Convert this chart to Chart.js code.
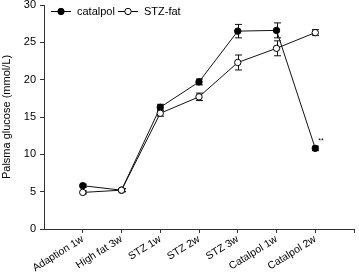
<!DOCTYPE html>
<html>
<head>
<meta charset="utf-8">
<script src="https://cdn.jsdelivr.net/npm/chart.js@4/dist/chart.umd.min.js"></script>
<style>
  html, body { margin: 0; padding: 0; background: #fff; }
  #wrap { width: 359px; height: 272px; position: relative; }
</style>
</head>
<body>
<div id="wrap"><canvas id="myChart"></canvas></div>
<script>
const categories = ["Adaption 1w", "High fat 3w", "STZ 1w", "STZ 2w", "STZ 3w", "Catalpol 1w", "Catalpol 2w"];
const catalpolValues = [5.8, 5.2, 16.3, 19.7, 26.5, 26.6, 10.8];
const catalpolErrors = [0.2, 0.2, 0.4, 0.4, 0.9, 1.0, 0.3];
const stzFatValues = [4.9, 5.2, 15.5, 17.7, 22.3, 24.2, 26.3];
const stzFatErrors = [0.2, 0.2, 0.4, 0.5, 1.0, 1.0, 0.4];
const yTicks = [0, 5, 10, 15, 20, 25, 30];

const FONT = "'Liberation Sans', Arial, sans-serif";

function toPoints(values) {
  return values.map((v, i) => ({ x: i + 1, y: v }));
}

// draws error bars behind markers, the legend and the ** mark
const extras = {
  id: "extras",
  beforeDatasetsDraw(chart) {
    const ctx = chart.ctx;
    const xs = chart.scales.x;
    const ys = chart.scales.y;
    const sets = [
      [catalpolValues, catalpolErrors],
      [stzFatValues, stzFatErrors],
    ];
    ctx.save();
    ctx.strokeStyle = "#111";
    ctx.lineWidth = 1;
    sets.forEach(([vals, errs]) => {
      vals.forEach((v, i) => {
        const x = Math.round(xs.getPixelForValue(i + 1)) + 0.5;
        const top = ys.getPixelForValue(v + errs[i]);
        const bot = ys.getPixelForValue(v - errs[i]);
        ctx.beginPath();
        ctx.moveTo(x, top);
        ctx.lineTo(x, bot);
        ctx.moveTo(x - 3.5, top);
        ctx.lineTo(x + 3.5, top);
        ctx.moveTo(x - 3.5, bot);
        ctx.lineTo(x + 3.5, bot);
        ctx.stroke();
      });
    });
    ctx.restore();
  },
  afterDatasetsDraw(chart) {
    const ctx = chart.ctx;
    const xs = chart.scales.x;
    const ys = chart.scales.y;
    ctx.save();
    // legend
    const items = [
      { label: "catalpol", x: 51, fill: "#000" },
      { label: "STZ-fat", x: 118, fill: "#fff" },
    ];
    ctx.font = "11px " + FONT;
    ctx.textBaseline = "middle";
    items.forEach((it) => {
      const y = 11.5;
      ctx.strokeStyle = "#000";
      ctx.lineWidth = 1;
      ctx.beginPath();
      ctx.moveTo(it.x, y);
      ctx.lineTo(it.x + 20, y);
      ctx.stroke();
      ctx.beginPath();
      ctx.arc(it.x + 10, y, 3.2, 0, Math.PI * 2);
      ctx.fillStyle = it.fill;
      ctx.fill();
      ctx.stroke();
      ctx.fillStyle = "#000";
      ctx.fillText(it.label, it.x + 26, y);
    });
    // significance mark
    const px = xs.getPixelForValue(7);
    const py = ys.getPixelForValue(catalpolValues[6]);
    ctx.font = "7px " + FONT;
    ctx.fillText("**", px + 3, py - 7);
    ctx.restore();
  },
};

new Chart(document.getElementById("myChart").getContext("2d"), {
  type: "line",
  data: {
    datasets: [
      {
        label: "STZ-fat",
        data: toPoints(stzFatValues),
        borderColor: "#111",
        borderWidth: 1,
        pointRadius: 3.2,
        pointBackgroundColor: "#fff",
        pointBorderColor: "#000",
        pointBorderWidth: 1,
        tension: 0,
      },
      {
        label: "catalpol",
        data: toPoints(catalpolValues),
        borderColor: "#111",
        borderWidth: 1,
        pointRadius: 3.2,
        pointBackgroundColor: "#000",
        pointBorderColor: "#000",
        pointBorderWidth: 1,
        tension: 0,
      },
    ],
  },
  options: {
    responsive: true,
    maintainAspectRatio: false,
    animation: false,
    layout: { padding: { top: 5, right: 2, left: 0, bottom: 0 } },
    plugins: {
      legend: { display: false },
      tooltip: { enabled: false },
    },
    scales: {
      x: {
        type: "linear",
        min: 0,
        max: 8,
        afterFit: (s) => {
          s.height = 43;
          s.paddingLeft = 0;
          s.paddingRight = 0;
        },
        afterBuildTicks: (s) => {
          s.ticks = [0, 1, 2, 3, 4, 5, 6, 7, 8].map((v) => ({ value: v }));
        },
        ticks: {
          autoSkip: false,
          minRotation: 32,
          maxRotation: 32,
          padding: 0,
          color: "#000",
          font: { family: FONT, size: 10.5 },
          callback: (v) => categories[v - 1] || "",
        },
        grid: {
          display: true,
          drawOnChartArea: false,
          drawTicks: true,
          tickLength: 4,
          color: (c) => (c.tick && c.tick.value >= 1 ? "#333" : "rgba(0,0,0,0)"),
        },
        border: { color: "#333", width: 1 },
      },
      y: {
        min: 0,
        max: 30,
        afterFit: (s) => {
          s.width = 44;
          s.paddingTop = 0;
          s.paddingBottom = 0;
        },
        afterBuildTicks: (s) => {
          s.ticks = yTicks.map((v) => ({ value: v }));
        },
        title: {
          display: true,
          text: "Palsma glucose (mmol/L)",
          color: "#000",
          font: { family: FONT, size: 11 },
          padding: { top: 0, bottom: 0 },
        },
        ticks: {
          color: "#000",
          padding: 4,
          font: { family: FONT, size: 11 },
        },
        grid: {
          display: true,
          drawOnChartArea: false,
          drawTicks: true,
          tickLength: 4,
          color: "#333",
        },
        border: { color: "#333", width: 1 },
      },
    },
  },
  plugins: [extras],
});
</script>
</body>
</html>
